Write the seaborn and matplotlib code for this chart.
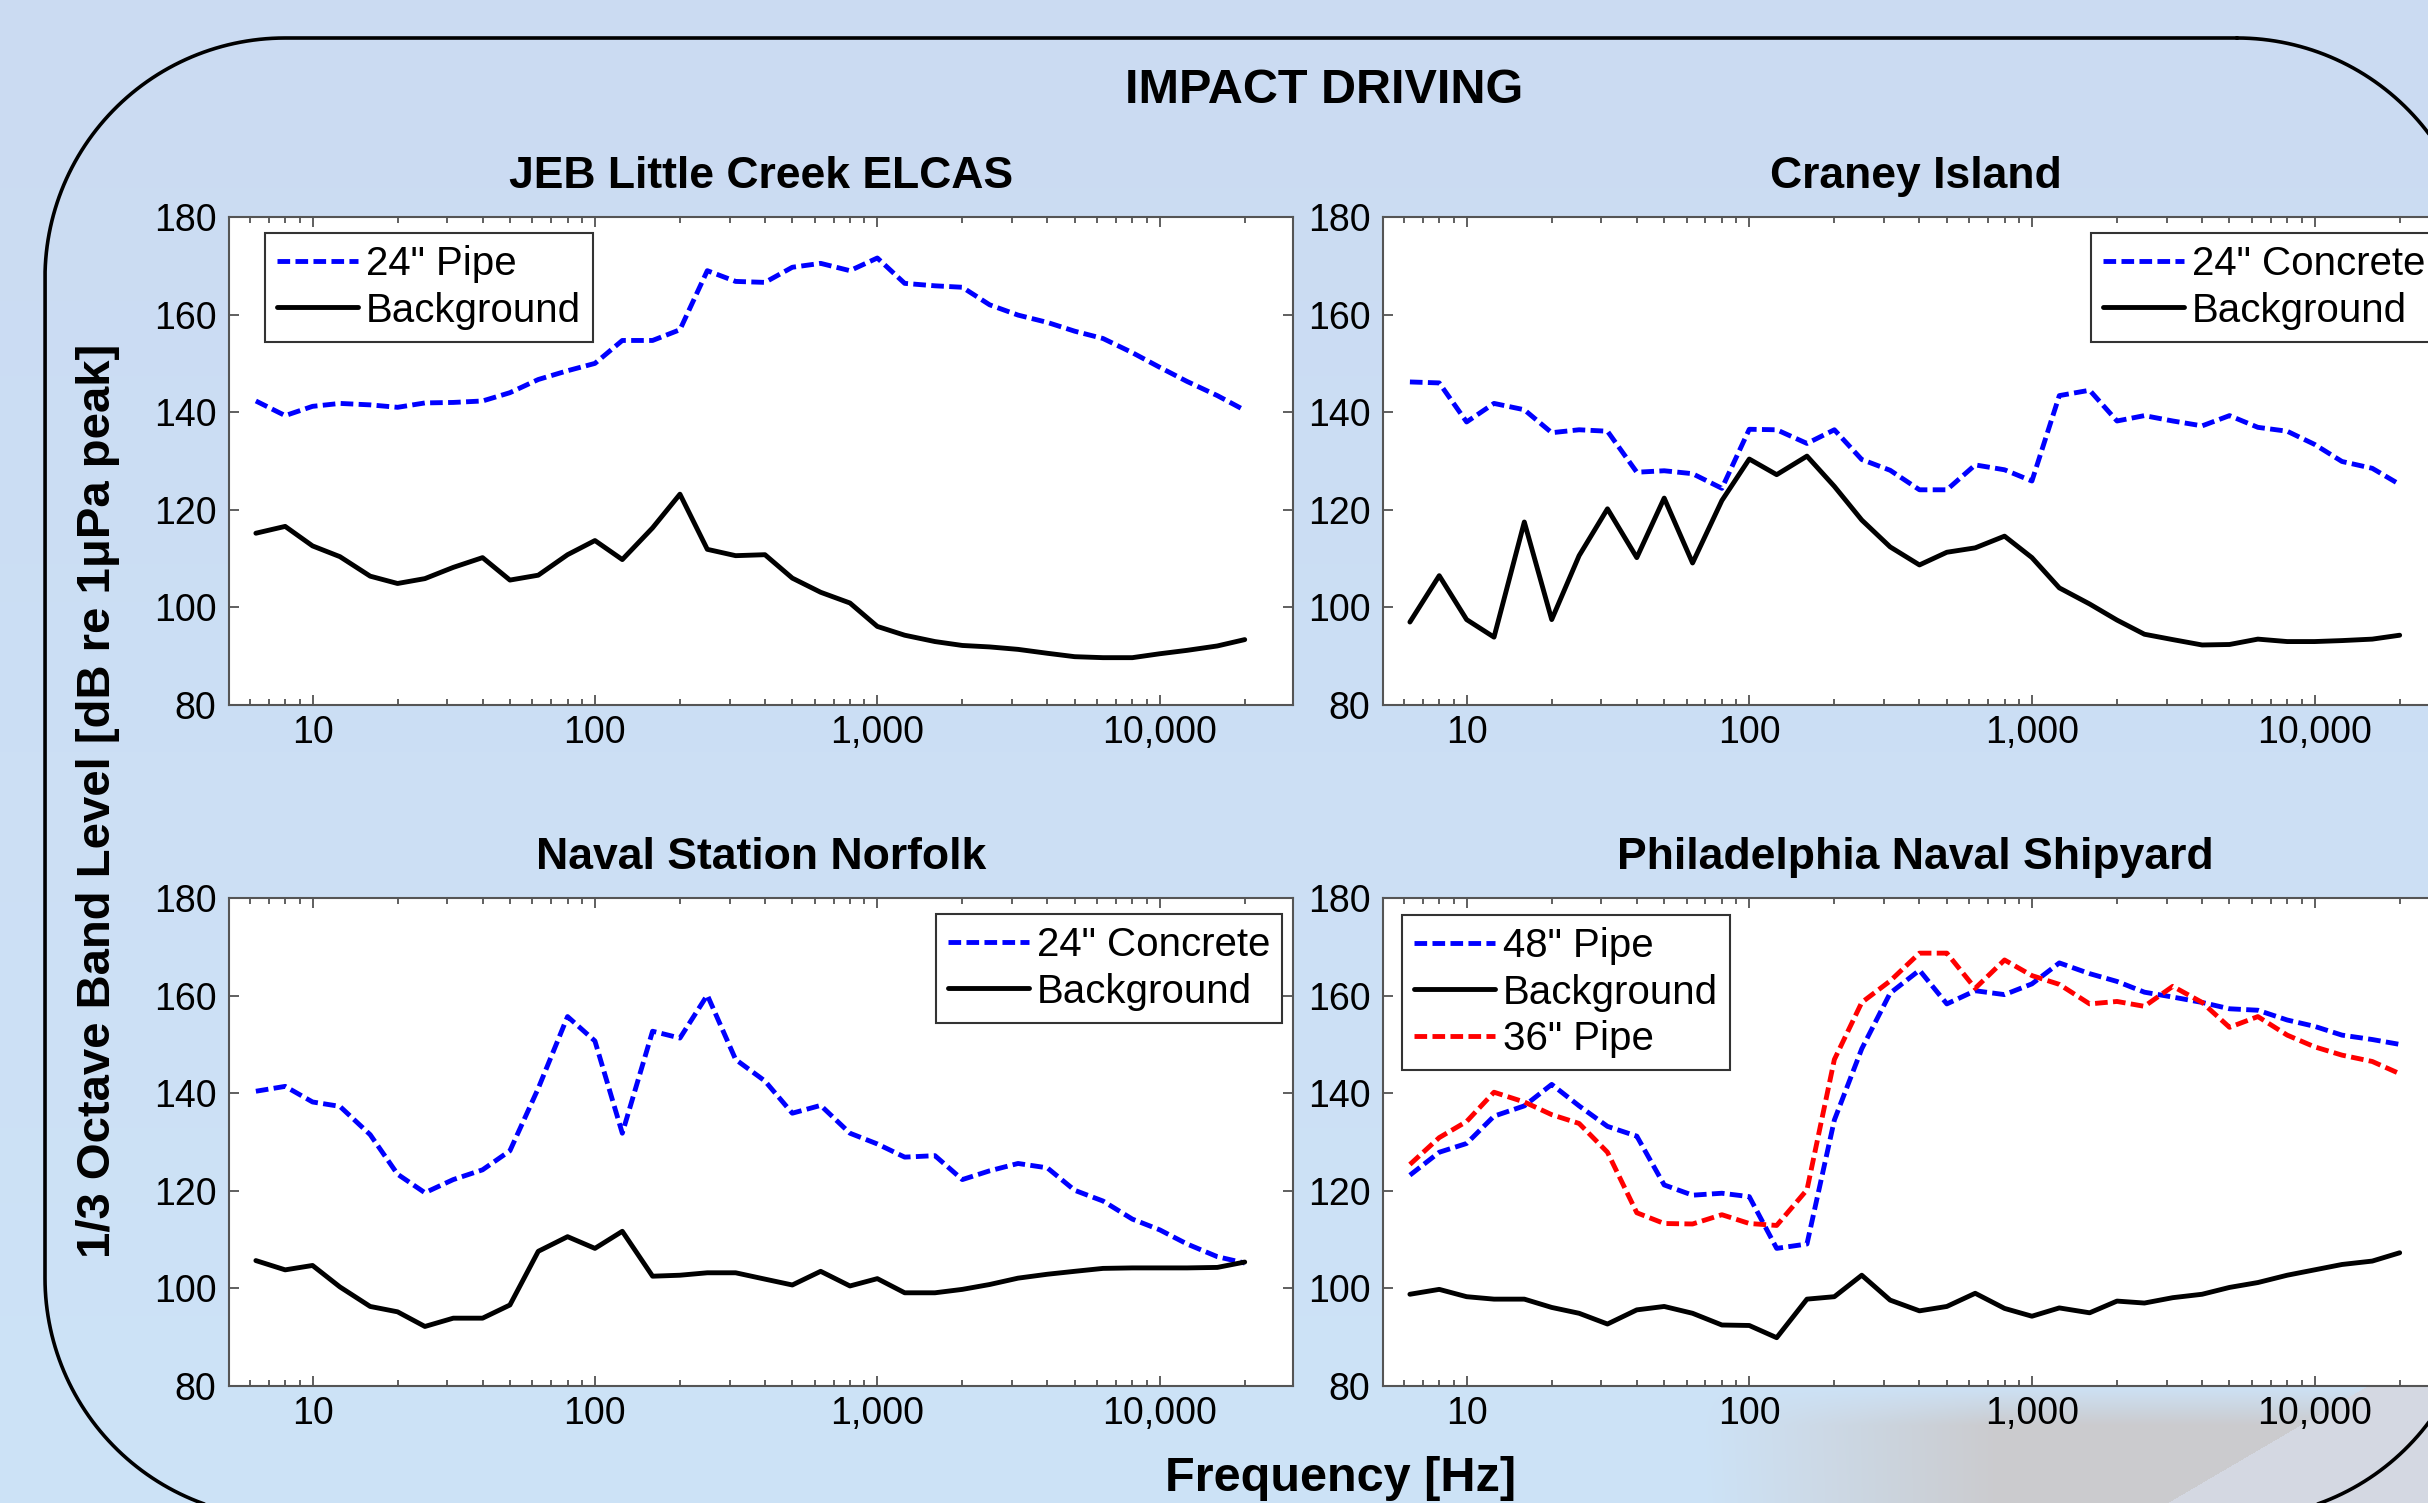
"""Impact driving 1/3 octave band levels, four sites, on a rounded slide panel."""

import matplotlib

matplotlib.use("Agg")
import matplotlib.pyplot as plt
import numpy as np
import seaborn as sns
from matplotlib.ticker import FuncFormatter, LogLocator, NullFormatter

# 1/3 octave band centre frequencies [Hz]
FREQ_HZ = [6.3, 8, 10, 12.5, 16, 20, 25, 31.5, 40, 50, 63, 80, 100, 125, 160, 200,
           250, 315, 400, 500, 630, 800, 1000, 1250, 1600, 2000, 2500, 3150, 4000,
           5000, 6300, 8000, 10000, 12500, 16000, 20000]

# JEB Little Creek ELCAS
JEB_PIPE_24 = [142.3, 139.3, 141.2, 141.8, 141.5, 141.0, 141.9, 142.0, 142.3, 144.0,
               146.7, 148.5, 150.0, 154.7, 154.7, 156.9, 169.0, 166.8, 166.6, 169.7,
               170.5, 169.0, 171.6, 166.4, 165.9, 165.6, 162.0, 159.9, 158.4, 156.6,
               155.1, 152.2, 149.2, 146.3, 143.4, 140.4]
JEB_BACKGROUND = [115.2, 116.6, 112.6, 110.4, 106.4, 104.9, 105.9, 108.2, 110.2, 105.6,
                  106.6, 110.8, 113.7, 109.8, 116.3, 123.2, 111.9, 110.6, 110.8, 106.0,
                  103.1, 100.9, 96.1, 94.3, 93.0, 92.2, 91.9, 91.4, 90.6, 89.9,
                  89.7, 89.7, 90.5, 91.2, 92.1, 93.4]

# Craney Island
CRANEY_CONCRETE_24 = [146.2, 146.0, 138.0, 141.8, 140.5, 135.8, 136.4, 136.1, 127.7, 128.0,
                      127.4, 124.4, 136.5, 136.4, 133.6, 136.4, 130.3, 128.1, 124.1, 124.1,
                      129.2, 128.2, 125.9, 143.4, 144.5, 138.2, 139.3, 138.2, 137.2, 139.3,
                      136.9, 136.1, 133.4, 129.9, 128.5, 125.2]
CRANEY_BACKGROUND = [97.0, 106.5, 97.5, 93.9, 117.5, 97.5, 110.6, 120.2, 110.2, 122.4,
                     109.1, 121.9, 130.4, 127.2, 131.0, 124.8, 117.9, 112.4, 108.7, 111.3,
                     112.2, 114.6, 110.2, 104.0, 100.7, 97.4, 94.5, 93.4, 92.3, 92.4,
                     93.5, 93.0, 93.0, 93.2, 93.5, 94.3]

# Naval Station Norfolk
NORFOLK_CONCRETE_24 = [140.4, 141.4, 138.2, 137.3, 131.5, 123.4, 119.6, 122.3, 124.3, 128.2,
                       141.0, 155.7, 150.7, 131.8, 152.7, 151.3, 160.1, 146.9, 142.5, 135.9,
                       137.5, 131.8, 129.6, 126.9, 127.2, 122.3, 124.1, 125.6, 124.7, 120.1,
                       117.9, 114.2, 112.0, 109.1, 106.5, 105.2]
NORFOLK_BACKGROUND = [105.7, 103.8, 104.7, 100.3, 96.3, 95.2, 92.2, 93.9, 93.9, 96.6,
                      107.6, 110.6, 108.2, 111.7, 102.5, 102.7, 103.2, 103.2, 101.9, 100.7,
                      103.5, 100.5, 102.0, 99.1, 99.1, 99.8, 100.8, 102.1, 102.9, 103.5,
                      104.1, 104.2, 104.2, 104.2, 104.3, 105.4]

# Philadelphia Naval Shipyard
PHILA_PIPE_48 = [123.2, 127.9, 129.7, 135.3, 137.4, 141.8, 137.4, 133.2, 131.2, 121.2,
                 119.1, 119.5, 118.8, 108.2, 109.1, 134.5, 149.1, 160.5, 165.2, 158.3,
                 161.0, 160.2, 162.4, 166.7, 164.5, 162.9, 160.7, 159.7, 158.6, 157.3,
                 157.0, 155.0, 153.7, 151.9, 151.0, 150.0]
PHILA_BACKGROUND = [98.8, 99.8, 98.3, 97.8, 97.8, 96.1, 94.9, 92.7, 95.6, 96.3,
                    94.9, 92.5, 92.4, 89.9, 97.8, 98.3, 102.7, 97.6, 95.4, 96.3,
                    99.0, 95.9, 94.3, 96.0, 95.0, 97.4, 97.0, 98.1, 98.8, 100.2,
                    101.2, 102.7, 103.8, 104.9, 105.6, 107.3]
PHILA_PIPE_36 = [125.4, 130.9, 134.2, 140.2, 138.2, 135.6, 133.8, 127.9, 115.5, 113.3,
                 113.2, 115.1, 113.3, 112.9, 120.2, 146.9, 158.6, 163.0, 168.7, 168.7,
                 161.5, 167.3, 164.1, 162.3, 158.3, 158.8, 157.8, 161.9, 158.6, 153.5,
                 155.7, 151.9, 149.5, 147.8, 146.5, 144.0]

Y_TICKS = [80, 100, 120, 140, 160, 180]

W, H = 2428, 1503

PANELS = [
    {
        "title": "JEB Little Creek ELCAS",
        "rect": (229, 217, 1293, 705),
        "series": [("24\" Pipe", JEB_PIPE_24, "#0000ff", True),
                   ("Background", JEB_BACKGROUND, "black", False)],
        "legend": ("upper left", (0.034, 0.968)),
    },
    {
        "title": "Craney Island",
        "rect": (1383, 217, 2448, 705),
        "series": [("24\" Concrete", CRANEY_CONCRETE_24, "#0000ff", True),
                   ("Background", CRANEY_BACKGROUND, "black", False)],
        "legend": ("upper right", (0.99, 0.968)),
    },
    {
        "title": "Naval Station Norfolk",
        "rect": (229, 898, 1293, 1386),
        "series": [("24\" Concrete", NORFOLK_CONCRETE_24, "#0000ff", True),
                   ("Background", NORFOLK_BACKGROUND, "black", False)],
        "legend": ("upper right", (0.99, 0.968)),
    },
    {
        "title": "Philadelphia Naval Shipyard",
        "rect": (1383, 898, 2448, 1386),
        "series": [("48\" Pipe", PHILA_PIPE_48, "#0000ff", True),
                   ("Background", PHILA_BACKGROUND, "black", False),
                   ("36\" Pipe", PHILA_PIPE_36, "#ff0000", True)],
        "legend": ("upper left", (0.018, 0.966)),
    },
]


def px_rect(x0, y0, x1, y1):
    return [x0 / W, 1 - y1 / H, (x1 - x0) / W, (y1 - y0) / H]


def background_image():
    yy, xx = np.mgrid[0:H, 0:W].astype(float)
    top = np.array([203, 219, 242], float)
    bottom = np.array([205, 227, 247], float)
    t = (yy / H)[..., None]
    img = top * (1 - t) + bottom * t
    grey = np.array([203, 203, 206], float)
    g = (np.clip((yy - 1385) / 40, 0, 1) * np.clip((xx - 1700) / 300, 0, 1))[..., None]
    img = img * (1 - g) + grey * g
    wedge = (xx > 2360 - (yy - 1390) * (193 / 113)) & (yy > 1385)
    img[wedge] = [212, 216, 226]
    return img / 255


def rounded_outline(x0, y0, x1, y1, r, n=60):
    """Corner arcs of a rounded box in pixel coords (y down)."""
    pts = []
    corners = [((x1 - r, y0 + r), -90, 0), ((x1 - r, y1 - r), 0, 90),
               ((x0 + r, y1 - r), 90, 180), ((x0 + r, y0 + r), 180, 270)]
    for (cx, cy), a0, a1 in corners:
        ang = np.radians(np.linspace(a0, a1, n))
        pts.append(np.column_stack([cx + r * np.cos(ang), cy + r * np.sin(ang)]))
    pts = np.vstack(pts)
    return np.vstack([pts, pts[:1]])


sns.set_style("ticks")
plt.rcParams["font.family"] = ["Liberation Sans", "DejaVu Sans"]
plt.rcParams["text.color"] = "black"
plt.rcParams["axes.labelcolor"] = "black"

fig = plt.figure(figsize=(W / 100, H / 100), dpi=100)

bg = fig.add_axes([0, 0, 1, 1], zorder=-10)
bg.imshow(background_image(), extent=(0, W, H, 0), aspect="auto", interpolation="bilinear")
outline = rounded_outline(45, 38, 2477, 1518, 240)
bg.plot(outline[:, 0], outline[:, 1], color="black", linewidth=2.6, solid_joinstyle="round")
bg.set_xlim(0, W)
bg.set_ylim(H, 0)
bg.axis("off")

for panel in PANELS:
    ax = fig.add_axes(px_rect(*panel["rect"]))
    ax.set_facecolor("white")
    for label, values, color, dashed in panel["series"]:
        sns.lineplot(x=FREQ_HZ, y=values, color=color, linewidth=3.5, label=label, ax=ax)
        if dashed:
            ax.lines[-1].set_dashes([2.6, 1.1])

    ax.set_xscale("log")
    ax.set_xlim(5.06, 29650)
    ax.set_ylim(80, 180)
    ax.set_yticks(Y_TICKS)
    ax.xaxis.set_major_locator(LogLocator(base=10, numticks=10))
    ax.xaxis.set_minor_locator(LogLocator(base=10, subs=np.arange(2, 10), numticks=30))
    ax.xaxis.set_major_formatter(FuncFormatter(lambda v, _: f"{v:,.0f}"))
    ax.xaxis.set_minor_formatter(NullFormatter())
    ax.tick_params(which="both", direction="in", top=True, right=True,
                   color="#444444", labelcolor="black", labelsize=27)
    ax.tick_params(which="major", length=7, width=1.2)
    ax.tick_params(which="minor", length=4.5, width=1.2)
    ax.tick_params(axis="x", pad=7)
    ax.tick_params(axis="y", pad=9)
    ax.set_xlabel("")
    ax.set_ylabel("")
    for spine in ax.spines.values():
        spine.set_color("#555555")
        spine.set_linewidth(1.5)
    ax.set_title(panel["title"], fontsize=32, fontweight="bold", pad=21, color="black")

    loc, anchor = panel["legend"]
    leg = ax.legend(loc=loc, bbox_to_anchor=anchor, borderaxespad=0, fontsize=29,
                    frameon=True, fancybox=False, framealpha=1, edgecolor="#333333",
                    handlelength=2.0, handletextpad=0.2, borderpad=0.3, labelspacing=0.22)
    leg.get_frame().set_linewidth(1.5)

fig.text(1324 / W, 1 - 103 / H, "IMPACT DRIVING", ha="center", va="baseline",
         fontsize=35, fontweight="bold")
fig.text(98 / W, 1 - 801 / H, "1/3 Octave Band Level [dB re 1μPa peak]", rotation=90,
         ha="center", va="center", fontsize=34, fontweight="bold")
fig.text(1341 / W, 1 - 1491 / H, "Frequency [Hz]", ha="center", va="baseline",
         fontsize=35, fontweight="bold")

fig.savefig("out.png", dpi=100)
plt.close(fig)
